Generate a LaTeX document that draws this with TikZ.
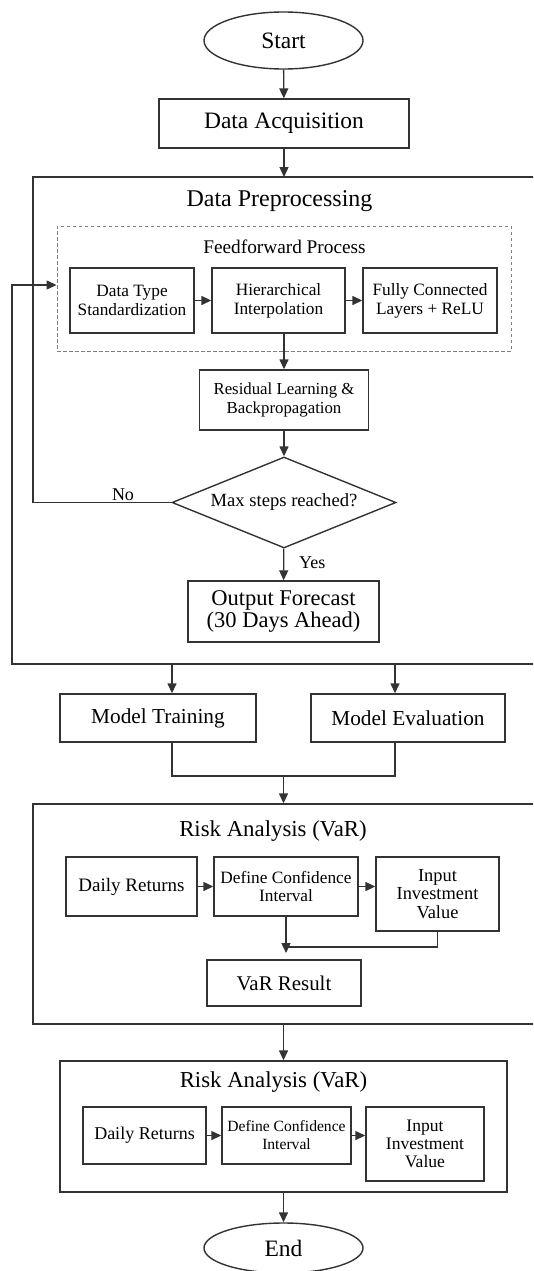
\documentclass[tikz,border=0pt]{standalone}
\usepackage{fontspec}
\setmainfont{Liberation Serif}
\usetikzlibrary{shapes.geometric,arrows.meta,calc}
\begin{document}
\begin{tikzpicture}[x=1pt,y=-1pt,
  ln/.style={draw=black!80, line width=1.4pt},
  box/.style={ln, rectangle, inner sep=0pt, align=center, text=black},
  arr/.style={ln, -{Triangle[length=10pt,width=9pt]}},
  lbl/.style={inner sep=0pt, align=center, text=black},
  fs/.style 2 args={font=\fontsize{#1}{#2}\selectfont},
]
\path[use as bounding box] (0,0) rectangle (533,1271);
\clip (0,0) rectangle (533,1271);

% Start / acquisition
\node[ellipse, ln, minimum width=159pt, minimum height=57pt, inner sep=0pt, fs={23.5}{26}] (start) at (283.5,40.5) {Start};
\node[box, minimum width=250pt, minimum height=49pt, fs={23.5}{26}] (acq) at (284,123.5) {Data Acquisition};

% Data preprocessing container
\coordinate (ptl) at (33,177);
\coordinate (ptr) at (600,177);
\coordinate (pbl) at (12,664);
\coordinate (pbr) at (600,664);
\coordinate (fbtop) at (12,285);
\node[lbl, fs={24}{28}] (tpre) at (279.5,201) {Data Preprocessing};

\node[draw=black!50, line width=0.9pt, dash pattern=on 3.5pt off 2.5pt, minimum width=454pt, minimum height=125pt, inner sep=0pt] (ff) at (284,288.5) {};
\node[lbl, fs={19.3}{22}] (tff) at (284.5,247) {Feedforward Process};

\node[box, minimum width=124pt, minimum height=65pt, fs={17.3}{19}] (dts) at (132,300.5) {Data Type\\Standardization};
\node[box, minimum width=133pt, minimum height=65pt, fs={17.3}{19}] (hi) at (278.5,300.5) {Hierarchical\\Interpolation};
\node[box, minimum width=134pt, minimum height=65pt, fs={17.3}{19}] (fc) at (430,300.5) {Fully Connected\\Layers + ReLU};

\node[box, minimum width=169pt, minimum height=60pt, fs={16.8}{19}] (res) at (284,400) {Residual Learning \&\\Backpropagation};

\node[diamond, ln, aspect=2.46, inner sep=0pt, minimum width=224pt, minimum height=91pt, fs={18.6}{21}, text=black] (dia) at (284,502.5) {Max steps reached?};
\node[lbl, fs={18}{20}] (no) at (123,495) {No};
\node[lbl, anchor=west, fs={18}{20}] (yes) at (299,563) {Yes};

\node[box, minimum width=191pt, minimum height=61pt, fs={22.5}{22}] (out) at (283.5,611.5) {Output Forecast\\(30 Days Ahead)};

\draw[arr] (start) -- (acq);
\draw[arr] (acq.south) -- (acq.south |- ptl);
\draw[arr] (dts) -- (hi);
\draw[arr] (hi) -- (fc);
\draw[arr] (res.north |- hi.south) -- (res.north);
\draw[arr] (res) -- (dia);
\draw[arr] (dia) -- (out);
\draw[ln] (ptr) -- (ptl) -- (ptl |- dia.west) -- (dia.west);
\draw[arr] (pbr) -- (pbl) -- (fbtop) -- (ff.west |- fbtop);

% Training / evaluation
\node[box, minimum width=196pt, minimum height=48pt, fs={21.3}{24}] (train) at (158,718) {Model Training};
\node[box, minimum width=194pt, minimum height=48pt, fs={21.3}{24}] (eval) at (408,718) {Model Evaluation};
\coordinate (p1) at (172,664);
\coordinate (p2) at (395,664);
\coordinate (m1) at (172,776);
\coordinate (m2) at (395,776);
\coordinate (mc) at (283.5,776);
\draw[arr] (p1) -- (p1 |- train.north);
\draw[arr] (p2) -- (p2 |- eval.north);
\draw[ln] (m1 |- train.south) -- (m1) -- (m2) -- (m2 |- eval.south);

% Risk analysis 1
\node[ln, rectangle, inner sep=0pt, minimum width=527pt, minimum height=220pt] (risk1) at (296.5,914) {};
\draw[arr] (mc) -- (mc |- risk1.north);
\node[lbl, fs={22.8}{26}] (tr1) at (273,831) {Risk Analysis (VaR)};
\node[box, minimum width=131pt, minimum height=59pt, fs={19}{21}] (dr1) at (131.5,886.5) {Daily Returns};
\node[box, minimum width=144pt, minimum height=59pt, fs={17.3}{18.5}] (dc1) at (286,886.5) {Define Confidence\\Interval};
\node[box, minimum width=123pt, minimum height=74pt, fs={18.4}{18.5}] (iv1) at (437.5,894) {Input\\Investment\\Value};
\node[box, minimum width=154pt, minimum height=46pt, fs={20.9}{24}] (var) at (284,983) {VaR Result};
\coordinate (j1) at (286,953);
\coordinate (j2) at (437.5,947);
\draw[arr] (dr1) -- (dc1);
\draw[arr] (dc1.east) -- (iv1.west |- dc1.east);
\draw[arr] (dc1.south) -- (j1);
\draw[ln] (iv1.south) -- (j2) -- (j2 -| dc1.south);

% Risk analysis 2
\node[ln, rectangle, inner sep=0pt, minimum width=447pt, minimum height=131pt] (risk2) at (283.5,1126.5) {};
\draw[arr] (risk1.south -| risk2.north) -- (risk2.north);
\node[lbl, fs={22.8}{26}] (tr2) at (273.5,1082) {Risk Analysis (VaR)};
\node[box, minimum width=123pt, minimum height=57pt, fs={18}{20}] (dr2) at (144.5,1135.5) {Daily Returns};
\node[box, minimum width=129pt, minimum height=57pt, fs={15.6}{18}] (dc2) at (286.5,1135.5) {Define Confidence\\Interval};
\node[box, minimum width=118pt, minimum height=74pt, fs={17.6}{18}] (iv2) at (425,1144) {Input\\Investment\\Value};
\draw[arr] (dr2) -- (dc2);
\draw[arr] (dc2.east) -- (iv2.west |- dc2.east);

% End
\node[ellipse, ln, minimum width=159pt, minimum height=50pt, inner sep=0pt, fs={23.5}{26}] (end) at (283.5,1248) {End};
\draw[arr] (risk2.south) -- (end.north);
\end{tikzpicture}
\end{document}
